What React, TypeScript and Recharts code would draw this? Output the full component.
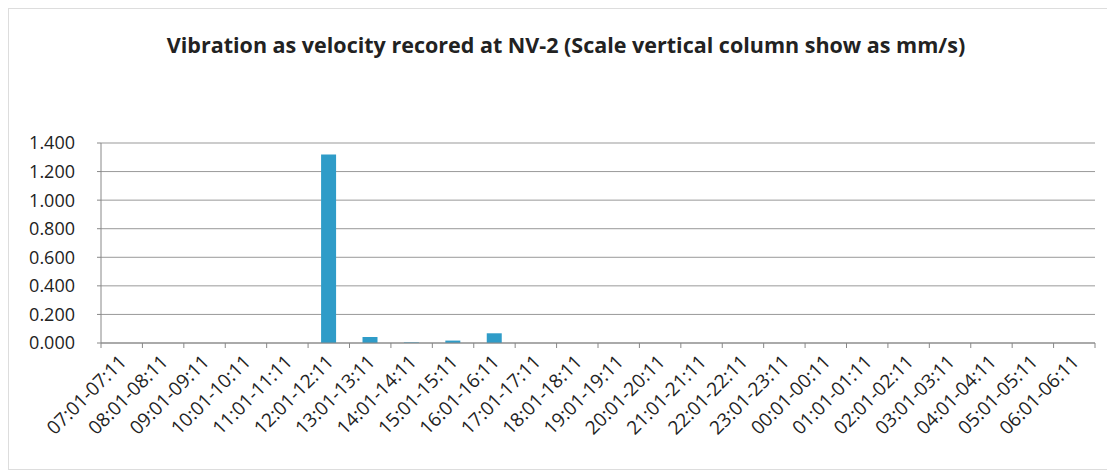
import { BarChart, Bar, XAxis, YAxis, CartesianGrid } from "recharts";

const hours = [
  "07:01-07:11", "08:01-08:11", "09:01-09:11", "10:01-10:11", "11:01-11:11",
  "12:01-12:11", "13:01-13:11", "14:01-14:11", "15:01-15:11", "16:01-16:11",
  "17:01-17:11", "18:01-18:11", "19:01-19:11", "20:01-20:11", "21:01-21:11",
  "22:01-22:11", "23:01-23:11", "00:01-00:11", "01:01-01:11", "02:01-02:11",
  "03:01-03:11", "04:01-04:11", "05:01-05:11", "06:01-06:11",
];
const velocity = [
  0, 0, 0, 0, 0, 1.32, 0.042, 0.004, 0.017, 0.068, 0, 0,
  0, 0, 0, 0, 0, 0, 0, 0, 0, 0, 0, 0,
];
const yTicks = [0, 0.2, 0.4, 0.6, 0.8, 1.0, 1.2, 1.4];

const data = hours.map((name, i) => ({ name, value: velocity[i] }));

const W = 1100;
const H = 462;
const M = { top: 134, right: 12, left: 0, bottom: 8 };
const Y_W = 92;
const band = (W - 2 - M.left - M.right - Y_W) / hours.length;
const font = "Open Sans, sans-serif";

function HourTick(props: any) {
  const { x, y, payload, index } = props;
  const last = index === hours.length - 1;
  const tx = x + 6;
  const ty = y + 12;
  return (
    <g>
      <line x1={x - band / 2} y1={y - 8} x2={x - band / 2} y2={y - 3} stroke="#888" />
      {last && <line x1={x + band / 2} y1={y - 8} x2={x + band / 2} y2={y - 3} stroke="#888" />}
      <text
        x={tx}
        y={ty}
        textAnchor="end"
        fontSize={19}
        fontFamily={font}
        fill="#222"
        transform={`rotate(-45 ${tx} ${ty})`}
      >
        {payload.value}
      </text>
    </g>
  );
}

export default function App() {
  return (
    <div
      style={{
        position: "relative",
        width: W,
        height: H,
        border: "1px solid #ddd",
        background: "#fff",
        boxSizing: "border-box",
      }}
    >
      <div
        style={{
          position: "absolute",
          top: 21,
          left: 8,
          width: "100%",
          textAlign: "center",
          fontFamily: font,
          fontWeight: 700,
          fontSize: 21.5,
          color: "#222",
        }}
      >
        Vibration as velocity recored at NV-2 (Scale vertical column show as mm/s)
      </div>
      <BarChart width={W - 2} height={H - 2} data={data} margin={M} barSize={15}>
        <CartesianGrid vertical={false} stroke="#999" />
        <XAxis
          dataKey="name"
          interval={0}
          tickLine={false}
          stroke="#888"
          height={118}
          tick={<HourTick />}
        />
        <YAxis
          domain={[0, 1.4]}
          ticks={yTicks}
          width={Y_W}
          stroke="#888"
          tickSize={4}
          tickMargin={22}
          tickFormatter={(v: number) => v.toFixed(3)}
          tick={{ fill: "#222", fontSize: 18, fontFamily: font }}
        />
        <Bar dataKey="value" fill="#2f9cc8" isAnimationActive={false} />
      </BarChart>
    </div>
  );
}
